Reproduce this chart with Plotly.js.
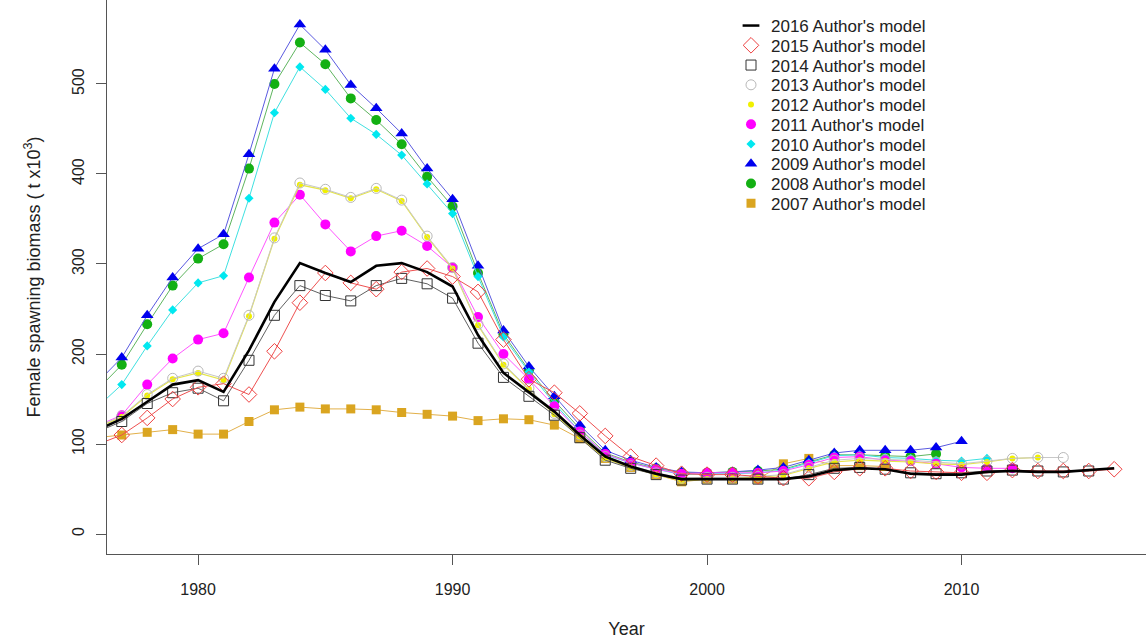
<!DOCTYPE html>
<html>
<head>
<meta charset="utf-8">
<script src="https://cdn.plot.ly/plotly-3.0.1.min.js"></script>
<style>
html,body{margin:0;padding:0;background:#fff;}
#chart{width:1146px;height:639px;}
</style>
</head>
<body>
<div id="chart"></div>
<script>
// ---------------- DATA ----------------
const yearsFrom1976 = n => Array.from({length:n},(_,i)=>1976+i);

const model2016 = [115,128,147,166,171,158,204,258,301,290,280,298,301,291,275,221,179,158,136,110,86,75,67,61,61,61,61,61,64,71,73,72,67,66,66,69,70,69,69,71,73];
const model2015 = [99,110,129,150,163,167,155,203,257,290,279,272,291,295,286,269,216,172,157,134,109,86,76,67,66,66,64,62,62,69,73,73,70,69,68,68,71,70,70,70,72];
const model2014 = [113,125,145,157,162,148,193,243,276,265,259,276,284,278,262,212,174,153,132,107,82,73,66,60,61,61,61,61,66,73,74,72,68,67,68,70,71,70,69,70];
const model2013 = [119,131,155,173,181,173,243,329,390,383,374,384,371,331,296,233,189,162,134,110,86,76,68,62,63,63,64,66,74,82,84,83,82,80,78,81,84,85,85];
const model2012 = [118,130,154,172,179,171,242,328,388,382,373,383,370,330,295,232,188,161,133,108,84,74,66,59,61,62,63,65,73,80,82,81,80,78,77,80,84,85];
const model2011 = [120,132,166,195,216,223,285,346,377,344,314,331,337,320,296,241,200,172,142,114,89,79,72,67,68,68,68,70,77,85,86,82,81,78,74,73,73];
const model2010 = [140,166,209,249,279,287,373,468,519,494,462,444,421,389,356,286,219,180,145,114,88,79,72,66,67,67,68,71,79,87,88,85,84,82,81,84];
const model2009 = [167,196,243,285,317,333,422,517,566,538,499,473,445,406,372,298,226,186,153,121,93,82,74,69,68,69,71,74,82,90,93,93,93,96,103];
const model2008 = [159,188,233,276,306,322,406,500,546,522,484,460,433,397,364,290,222,182,148,117,90,80,73,68,68,69,70,72,80,88,88,87,86,89];
const model2007 = [107,110,113,116,111,111,125,138,141,139,139,138,135,133,131,126,128,127,121,106,84,74,66,58,61,61,61,78,84,76,76,75];

const legendLabels = ["2016 Author's model","2015 Author's model","2014 Author's model","2013 Author's model","2012 Author's model","2011 Author's model","2010 Author's model","2009 Author's model","2008 Author's model","2007 Author's model"];

const xTicks = [1980,1990,2000,2010];
const yTicks = [0,100,200,300,400,500];

// ---------------- STYLES ----------------
const series = [
  {v:model2007, name:legendLabels[9], line:'#e2b04a', lw:1, mode:'lines+markers', sym:'square', size:9, mc:'#daa520', mlw:0},
  {v:model2008, name:legendLabels[8], line:'#5fb55f', lw:1, mode:'lines+markers', sym:'circle', size:10, mc:'#13b013', mlw:0},
  {v:model2009, name:legendLabels[7], line:'#5a5ae0', lw:1, mode:'lines+markers', sym:'triangle-up', size:11, mc:'#0000ee', mlw:0},
  {v:model2010, name:legendLabels[6], line:'#3fe0e0', lw:1, mode:'lines+markers', sym:'diamond', size:7, mc:'#00e8f0', mlw:0},
  {v:model2011, name:legendLabels[5], line:'#ff55ff', lw:1, mode:'lines+markers', sym:'circle', size:10, mc:'#ff00ff', mlw:0},
  {v:model2012, name:legendLabels[4], line:'#e6e64a', lw:1.2, mode:'lines+markers', sym:'circle', size:6, mc:'#f0f000', mlw:0},
  {v:model2013, name:legendLabels[3], line:'#c8c8c8', lw:1, mode:'lines+markers', sym:'circle-open', size:10, mc:'#b8b8b8', mlw:1},
  {v:model2014, name:legendLabels[2], line:'#606060', lw:1, mode:'lines+markers', sym:'square-open', size:10, mc:'#333333', mlw:1},
  {v:model2015, name:legendLabels[1], line:'#ee5050', lw:1, mode:'lines+markers', sym:'diamond-open', size:12, mc:'#ee4040', mlw:1},
  {v:model2016, name:legendLabels[0], line:'#000000', lw:2.6, mode:'lines', sym:'line-ew', size:12, mc:'#000000', mlw:2.5}
];

const traces = [];
series.forEach(s=>{
  const t = {
    x: yearsFrom1976(s.v.length), y: s.v, type:'scatter', mode:s.mode,
    line:{color:s.line, width:s.lw}, showlegend:false, hoverinfo:'skip'
  };
  if (s.mode.indexOf('markers')>=0) {
    t.marker = {symbol:s.sym, size:s.size, color:s.mc, line:{color:s.mc, width:s.mlw}};
  }
  traces.push(t);
});

// legend-only entries (marker-only, like R's legend with pch)
const legendLayouts = {};
const rowTop = 26, rowStep = 19.75, plotTopPx = 0, plotH = 554;
const legendOrder = series.slice().reverse();
legendOrder.forEach((s,i)=>{
  const key = i===0 ? 'legend' : 'legend'+(i+1);
  traces.push({
    x:[null], y:[null], type:'scatter', mode:'markers', name:s.name,
    legend:key, showlegend:true, hoverinfo:'skip',
    marker:{symbol:s.sym, size:s.sym==='line-ew'?12:s.size, color:s.mc, line:{color:s.mc, width:s.mlw}}
  });
  const yc = rowTop + i*rowStep;
  legendLayouts[key] = {
    x:(731-107)/1039, xanchor:'left',
    y:1-(yc-plotTopPx)/plotH, yanchor:'middle',
    bgcolor:'rgba(0,0,0,0)', borderwidth:0,
    font:{family:'Liberation Sans, Arial, sans-serif', size:17, color:'#222'},
    itemwidth:30
  };
});

const layout = Object.assign({
  width:1146, height:639,
  margin:{l:107, r:0, t:0, b:85},
  paper_bgcolor:'#fff', plot_bgcolor:'#fff',
  font:{family:'Liberation Sans, Arial, sans-serif', color:'#222'},
  xaxis:{
    range:[1976.42, 2017.25], tickvals:xTicks, ticktext:xTicks.map(String),
    showgrid:false, zeroline:false, showline:true, linecolor:'#555', linewidth:1,
    ticks:'outside', ticklen:10, tickcolor:'#555', tickwidth:1,
    tickfont:{size:16, color:'#222'}, ticklabelstandoff:11,
    title:{text:'Year', font:{size:18, color:'#222'}, standoff:25}
  },
  yaxis:{
    range:[-22.2, 593.3], tickvals:yTicks, ticktext:yTicks.map(String),
    showgrid:false, zeroline:false, showline:true, linecolor:'#555', linewidth:1,
    ticks:'outside', ticklen:10, tickcolor:'#555', tickwidth:1, tickangle:-90,
    tickfont:{size:16, color:'#222'}, ticklabelstandoff:6,
    title:{text:'Female spawning biomass ( t x10<sup>3</sup>)', font:{size:18, color:'#222'}, standoff:24}
  },
  showlegend:true
}, legendLayouts);

Plotly.newPlot('chart', traces, layout, {displayModeBar:false, staticPlot:true});
</script>
</body>
</html>
